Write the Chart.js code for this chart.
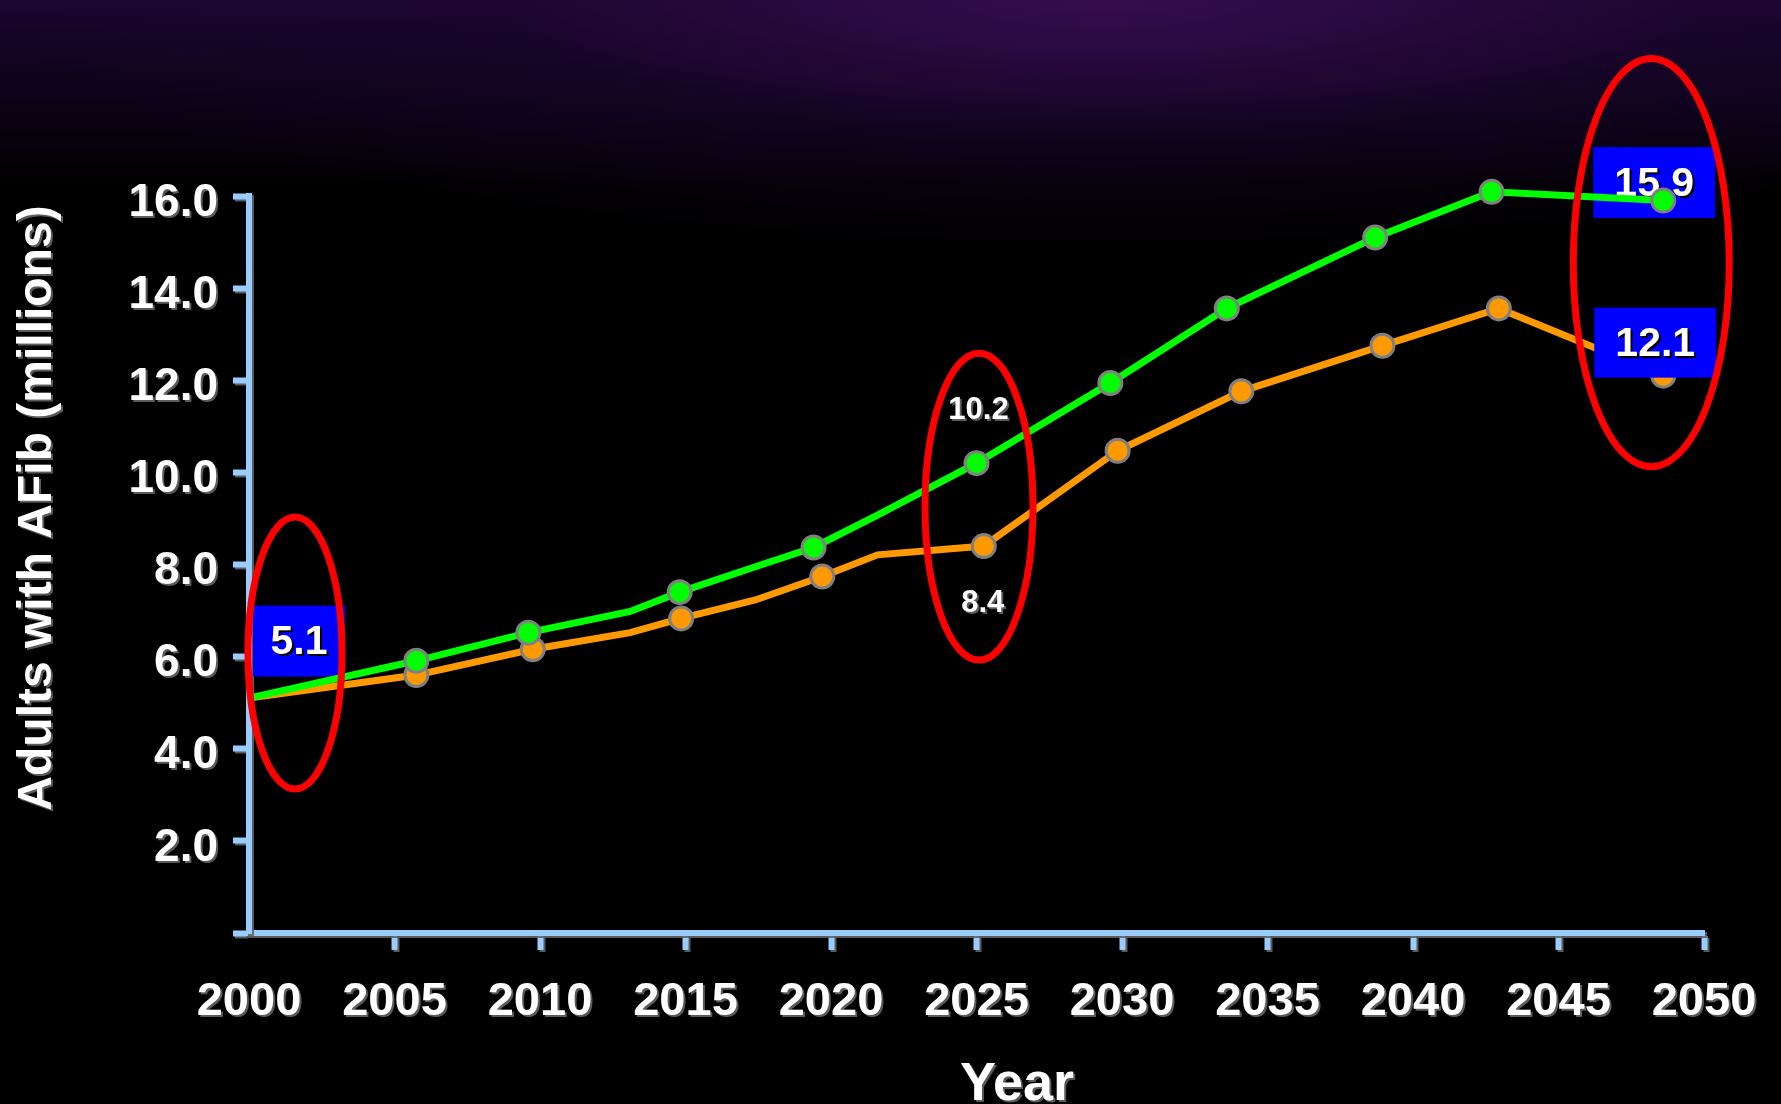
<!DOCTYPE html>
<html>
<head>
<meta charset="utf-8">
<title>Adults with AFib</title>
<script src="https://cdn.jsdelivr.net/npm/chart.js@4.4.1/dist/chart.umd.min.js"></script>
<style>
  html, body { margin: 0; padding: 0; }
  body {
    width: 1781px; height: 1104px; overflow: hidden; background-color: #000;
    background-image:
      radial-gradient(ellipse 1100px 250px at 62% 0%, rgba(58,14,84,0.85), rgba(28,6,48,0.45) 55%, rgba(0,0,0,0) 100%),
      linear-gradient(to bottom, #1c0630 0px, #0b0214 110px, #000 185px);
  }
  canvas { display: block; }
</style>
</head>
<body>
<canvas id="afib-chart" width="1781" height="1104"></canvas>
<script>
// projection assuming incidence keeps rising (millions)
const risingYears  = [2000, 2005.75, 2009.6, 2013.1, 2014.8, 2017.4, 2019.4, 2021.6, 2025.0, 2029.6, 2033.6, 2038.7, 2042.7, 2048.6];
const risingValues = [5.1, 5.91, 6.52, 6.98, 7.40, 7.95, 8.37, 9.07, 10.2, 11.94, 13.56, 15.10, 16.09, 15.9];
const risingMarked = [false, true, true, false, true, false, true, false, true, true, true, true, true, true];

// projection assuming no further increase in incidence (millions)
const flatYears  = [2000, 2005.75, 2009.75, 2013.1, 2014.85, 2017.4, 2019.7, 2021.6, 2025.25, 2029.85, 2034.1, 2038.95, 2042.95, 2048.6];
const flatValues = [5.1, 5.60, 6.16, 6.52, 6.83, 7.23, 7.74, 8.21, 8.4, 10.47, 11.76, 12.75, 13.56, 12.1];
const flatMarked = [false, true, true, false, true, false, true, false, true, true, true, true, true, true];

const yearTicks  = [2000, 2005, 2010, 2015, 2020, 2025, 2030, 2035, 2040, 2045, 2050];
const valueTicks = [0, 2, 4, 6, 8, 10, 12, 14, 16];

const FONT = '"Liberation Sans", Arial, sans-serif';
const AXIS_BLUE = '#99ccff';
const SHADE = 'rgba(100,100,100,0.9)';

function toPoints(xs, ys) {
  return xs.map((x, i) => ({ x: x, y: ys[i] }));
}

function pt(chart, ds, i) {
  const el = chart.getDatasetMeta(ds).data[i];
  return { x: el.x, y: el.y };
}

function label(ctx, text, x, y, size, shadow) {
  ctx.save();
  ctx.font = 'bold ' + size + 'px ' + FONT;
  ctx.textAlign = 'center';
  ctx.textBaseline = 'middle';
  ctx.shadowColor = shadow;
  ctx.shadowOffsetX = 2;
  ctx.shadowOffsetY = 2;
  ctx.fillStyle = '#fff';
  ctx.fillText(text, x, y);
  ctx.restore();
}

function box(ctx, text, cx, cy, w, h) {
  ctx.save();
  ctx.fillStyle = '#0000ff';
  ctx.fillRect(cx - w / 2, cy - h / 2, w, h);
  ctx.restore();
  label(ctx, text, cx, cy + 2, 41, '#000');
}

function ring(ctx, cx, cy, rx, ry) {
  ctx.save();
  ctx.strokeStyle = '#ff0000';
  ctx.lineWidth = 7;
  ctx.beginPath();
  ctx.ellipse(cx, cy, rx, ry, 0, 0, Math.PI * 2);
  ctx.stroke();
  ctx.restore();
}

const LAST = risingValues.length - 1;
const MID = 8; // the 2025 points

// soft drop shadow on the axes and their labels, then callouts
const callouts = {
  id: 'callouts',
  beforeDraw(chart) {
    const ctx = chart.ctx;
    ctx.save();
    ctx.shadowColor = SHADE;
    ctx.shadowOffsetX = 2;
    ctx.shadowOffsetY = 2;
  },
  beforeDatasetsDraw(chart) {
    const ctx = chart.ctx;
    ctx.restore();
    const s = pt(chart, 0, 0);
    box(ctx, risingValues[0].toFixed(1), s.x + 50, s.y - 57, 92, 71);
    const g = pt(chart, 0, LAST);
    box(ctx, risingValues[LAST].toFixed(1), g.x - 9, g.y - 18, 122, 71);
  },
  afterDatasetsDraw(chart) {
    const ctx = chart.ctx;
    const s = pt(chart, 0, 0);
    const g = pt(chart, 0, LAST);
    const o = pt(chart, 1, LAST);
    const oBox = o.y - 33;
    box(ctx, flatValues[LAST].toFixed(1), o.x - 8, oBox, 122, 70);

    // 2025 values written above and below the points
    const gm = pt(chart, 0, MID);
    const om = pt(chart, 1, MID);
    const top = gm.y - 53, bottom = om.y + 57;
    label(ctx, risingValues[MID].toFixed(1), gm.x + 2, top, 31, SHADE);
    label(ctx, flatValues[MID].toFixed(1), om.x - 1, bottom, 31, SHADE);

    ring(ctx, s.x + 46, s.y - 45, 47, 136);
    ring(ctx, gm.x + 2.5, (top + bottom) / 2, 54, (bottom - top) / 2 + 57);
    const gBox = g.y - 18;
    ring(ctx, g.x - 12, (gBox + oBox) / 2, 78, (oBox - gBox) / 2 + 124);
  },
  afterDraw(chart) {
    const ctx = chart.ctx;
    ctx.save();
    ctx.font = 'bold 54px ' + FONT;
    ctx.textAlign = 'center';
    ctx.textBaseline = 'alphabetic';
    ctx.shadowColor = SHADE;
    ctx.shadowOffsetX = 2;
    ctx.shadowOffsetY = 2;
    ctx.fillStyle = '#fff';
    ctx.fillText('Year', 1017, 1100);
    ctx.font = 'bold 48px ' + FONT;
    ctx.translate(51, 508);
    ctx.rotate(-Math.PI / 2);
    ctx.fillText('Adults with AFib (millions)', 0, 0);
    ctx.restore();
  }
};

new Chart(document.getElementById('afib-chart'), {
  type: 'line',
  data: {
    datasets: [
      {
        label: 'Rising incidence',
        data: toPoints(risingYears, risingValues),
        borderColor: '#00ff00',
        backgroundColor: '#00ff00',
        borderWidth: 7,
        pointRadius: risingMarked.map(m => m ? 11.5 : 0),
        pointBorderColor: '#808080',
        pointBorderWidth: 3,
        pointBackgroundColor: '#00ff00',
        tension: 0,
        clip: false
      },
      {
        label: 'No further increase in incidence',
        data: toPoints(flatYears, flatValues),
        borderColor: '#ff9900',
        backgroundColor: '#ff9900',
        borderWidth: 7,
        pointRadius: flatMarked.map(m => m ? 11.5 : 0),
        pointBorderColor: '#808080',
        pointBorderWidth: 3,
        pointBackgroundColor: '#ff9900',
        tension: 0,
        clip: false
      }
    ]
  },
  options: {
    responsive: false,
    animation: false,
    layout: { padding: { top: 196, right: 77, left: 0, bottom: 0 } },
    plugins: { legend: { display: false }, tooltip: { enabled: false } },
    scales: {
      x: {
        type: 'linear',
        min: 2000,
        max: 2050,
        afterBuildTicks: scale => { scale.ticks = yearTicks.map(v => ({ value: v })); },
        afterFit: scale => { scale.height = 171; },
        border: { color: AXIS_BLUE, width: 6 },
        grid: {
          drawOnChartArea: false,
          tickLength: 17,
          tickWidth: 6,
          tickColor: c => c.index === 0 ? 'rgba(0,0,0,0)' : AXIS_BLUE
        },
        ticks: {
          color: '#fff',
          padding: 24,
          maxRotation: 0,
          font: { family: FONT, size: 47, weight: 'bold' },
          callback: v => String(v)
        }
      },
      y: {
        min: 0,
        max: 16,
        afterBuildTicks: scale => { scale.ticks = valueTicks.map(v => ({ value: v })); },
        afterFit: scale => { scale.width = 249; },
        border: { color: AXIS_BLUE, width: 6 },
        grid: {
          drawOnChartArea: false,
          tickLength: 16,
          tickWidth: 6,
          tickColor: AXIS_BLUE
        },
        ticks: {
          color: '#fff',
          padding: 15,
          labelOffset: 7,
          font: { family: FONT, size: 46, weight: 'bold' },
          callback: v => v === 0 ? '' : v.toFixed(1)
        }
      }
    }
  },
  plugins: [callouts]
});
</script>
</body>
</html>
